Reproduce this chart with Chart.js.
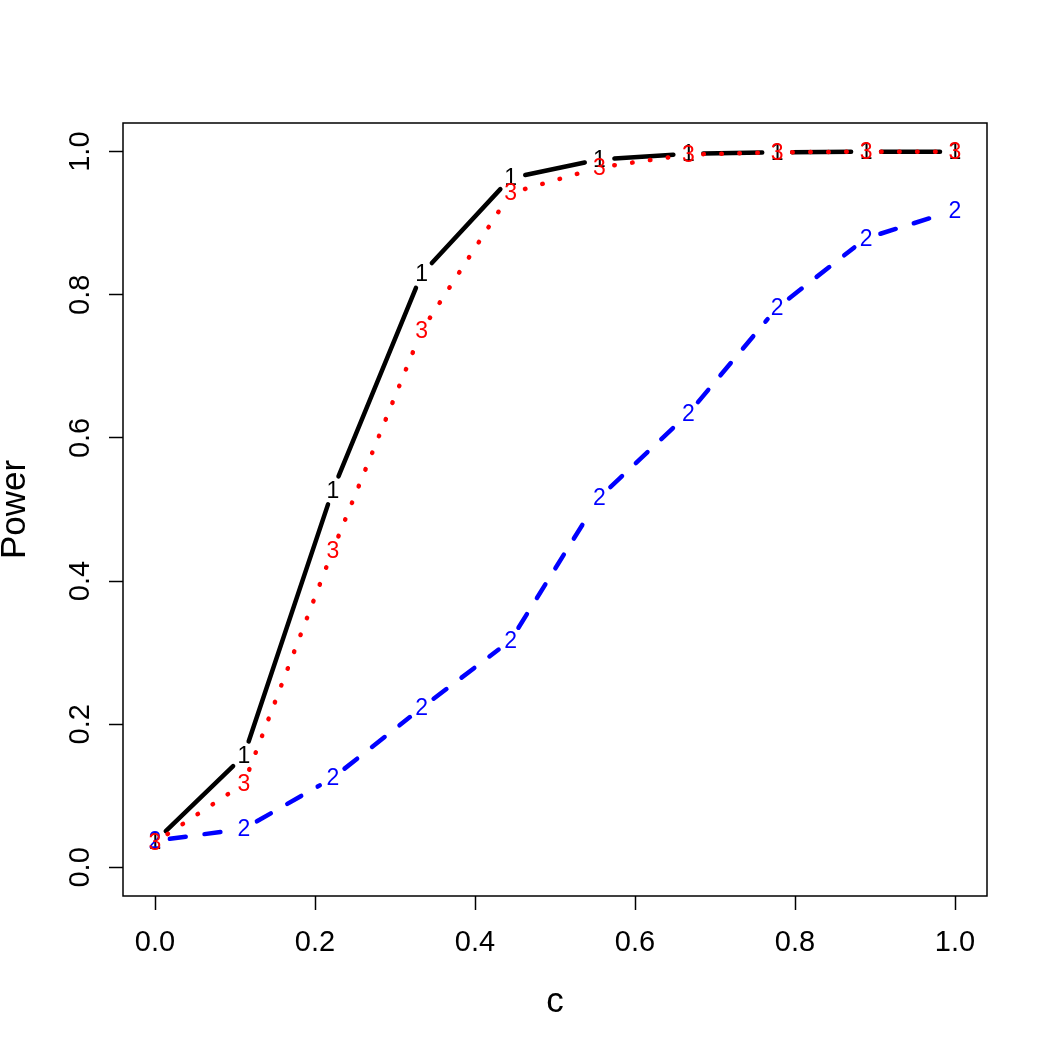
<!DOCTYPE html>
<html lang="en">
<head>
  <meta charset="UTF-8">
  <title>Power curves</title>
  <script src="https://cdn.jsdelivr.net/npm/chart.js"></script>
  <style>
    html, body { margin: 0; padding: 0; background: #fff; }
    #wrap { width: 1050px; height: 1050px; }
  </style>
</head>
<body>
  <div id="wrap"><canvas id="powerChart" width="1050" height="1050"></canvas></div>
  <script>
    // c values (0, 1/9, ..., 1)
    const cValues = [0, 1/9, 2/9, 3/9, 4/9, 5/9, 6/9, 7/9, 8/9, 1];
    const power1 = [0.036, 0.156, 0.527, 0.829, 0.963, 0.989, 0.997, 0.999, 1.000, 1.000];
    const power2 = [0.037, 0.054, 0.125, 0.223, 0.317, 0.517, 0.634, 0.782, 0.879, 0.918];
    const power3 = [0.035, 0.117, 0.443, 0.750, 0.942, 0.978, 0.996, 0.999, 1.000, 1.000];
    const xTicks = [0, 0.2, 0.4, 0.6, 0.8, 1.0];
    const yTicks = [0, 0.2, 0.4, 0.6, 0.8, 1.0];
    const seriesLabels = ['1', '2', '3'];
    const seriesColors = ['#000000', '#0000ff', '#ff0000'];
    const seriesDash = [[], [16, 19], [0.5, 17.5]];

    const FONT = '"Liberation Sans", Arimo, Helvetica, Arial, sans-serif';

    const toPoints = ys => cValues.map((x, i) => ({ x: x, y: ys[i] }));

    // R-style type="b": line segments with gaps around the point characters
    const typeB = {
      id: 'typeB',
      afterDatasetsDraw(chart) {
        const ctx = chart.ctx;
        const gap = 15;
        chart.data.datasets.forEach((ds, di) => {
          const pts = chart.getDatasetMeta(di).data;
          ctx.save();
          ctx.strokeStyle = seriesColors[di];
          ctx.lineWidth = 4.5;
          ctx.lineCap = 'round';
          for (let i = 0; i < pts.length - 1; i++) {
            const a = pts[i], b = pts[i + 1];
            const dx = b.x - a.x, dy = b.y - a.y;
            const len = Math.hypot(dx, dy);
            if (len <= 2 * gap) continue;
            const ux = dx / len, uy = dy / len;
            ctx.setLineDash(seriesDash[di]);
            ctx.lineDashOffset = 0;
            ctx.beginPath();
            ctx.moveTo(a.x + ux * gap, a.y + uy * gap);
            ctx.lineTo(b.x - ux * gap, b.y - uy * gap);
            ctx.stroke();
          }
          ctx.setLineDash([]);
          ctx.fillStyle = seriesColors[di];
          ctx.font = '23px ' + FONT;
          ctx.textAlign = 'center';
          ctx.textBaseline = 'middle';
          pts.forEach(p => ctx.fillText(seriesLabels[di], p.x, p.y + 1));
          ctx.restore();
        });
      }
    };

    // box, tick labels and axis titles
    const frame = {
      id: 'frame',
      afterDraw(chart) {
        const ctx = chart.ctx;
        const area = chart.chartArea;
        const xs = chart.scales.x, ys = chart.scales.y;
        ctx.save();
        ctx.strokeStyle = '#000';
        ctx.lineWidth = 1.5;
        ctx.strokeRect(area.left, area.top, area.right - area.left, area.bottom - area.top);

        ctx.fillStyle = '#000';
        ctx.font = '29px ' + FONT;
        ctx.textAlign = 'center';
        ctx.textBaseline = 'alphabetic';
        xTicks.forEach(v => ctx.fillText(v.toFixed(1), xs.getPixelForValue(v), 951));
        yTicks.forEach(v => {
          ctx.save();
          ctx.translate(89, ys.getPixelForValue(v));
          ctx.rotate(-Math.PI / 2);
          ctx.fillText(v.toFixed(1), 0, 0);
          ctx.restore();
        });

        ctx.font = '35px ' + FONT;
        ctx.fillText('c', (area.left + area.right) / 2, 1012);
        ctx.save();
        ctx.translate(25, (area.top + area.bottom) / 2);
        ctx.rotate(-Math.PI / 2);
        ctx.fillText('Power', 0, 0);
        ctx.restore();
        ctx.restore();
      }
    };

    const axisGrid = {
      display: true,
      drawOnChartArea: false,
      drawTicks: true,
      tickLength: 14,
      tickColor: '#000',
      tickWidth: 1.5
    };

    new Chart(document.getElementById('powerChart').getContext('2d'), {
      type: 'scatter',
      data: {
        datasets: [power1, power2, power3].map((ys, i) => ({
          label: seriesLabels[i],
          data: toPoints(ys),
          showLine: false,
          pointRadius: 0,
          borderColor: seriesColors[i]
        }))
      },
      options: {
        responsive: false,
        animation: false,
        layout: { padding: { top: 123, right: 63, left: 0, bottom: 0 } },
        plugins: { legend: { display: false }, tooltip: { enabled: false } },
        scales: {
          x: {
            type: 'linear',
            min: -0.04,
            max: 1.04,
            grid: axisGrid,
            border: { display: false },
            ticks: { display: false },
            afterBuildTicks: s => { s.ticks = xTicks.map(v => ({ value: v })); },
            afterFit: s => { s.height = 154; }
          },
          y: {
            type: 'linear',
            min: -0.04,
            max: 1.04,
            grid: axisGrid,
            border: { display: false },
            ticks: { display: false },
            afterBuildTicks: s => { s.ticks = yTicks.map(v => ({ value: v })); },
            afterFit: s => { s.width = 123; }
          }
        }
      },
      plugins: [typeB, frame]
    });
  </script>
</body>
</html>
